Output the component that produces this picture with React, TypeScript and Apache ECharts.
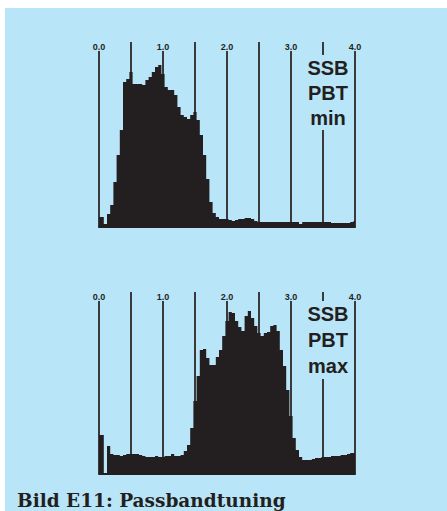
import React, { useEffect, useRef } from "react";
import * as echarts from "echarts";

// frequency grid step (kHz) of the sampled spectra
const STEP = 0.05;
const tickLabels = ["0.0", "1.0", "2.0", "3.0", "4.0"];

// SSB PBT min – amplitude per 0.05 kHz bin, 0.00 … 4.00 kHz
const pbtMin = [
  10, 10, 3, 13, 22, 45, 72, 97, 145, 148,
  155, 143, 143, 143, 142, 147, 150, 155, 160, 162,
  153, 140, 137, 137, 132, 120, 112, 110, 108, 112,
  115, 107, 92, 72, 48, 25, 14, 10, 8, 8,
  8, 7, 6, 7, 8, 8, 9, 9, 8, 6,
  5, 5, 5, 5, 5, 5, 5, 5, 5, 5,
  5, 5, 5, 3, 5, 5, 5, 5, 5, 5,
  5, 5, 5, 4, 4, 4, 4, 4, 4, 5,
  6,
];

// SSB PBT max – amplitude per 0.05 kHz bin, 0.00 … 4.00 kHz
const pbtMax = [
  39, 39, 1, 28, 20, 19, 19, 18, 19, 20,
  20, 20, 20, 19, 18, 17, 17, 17, 18, 17,
  17, 18, 18, 20, 18, 18, 19, 23, 29, 46,
  73, 98, 124, 125, 116, 109, 109, 117, 124, 138,
  153, 162, 161, 153, 147, 143, 158, 163, 156, 148,
  141, 138, 141, 142, 148, 149, 143, 124, 108, 84,
  58, 36, 24, 17, 14, 14, 14, 15, 16, 16,
  17, 17, 17, 18, 18, 18, 19, 19, 20, 21,
  21,
];

const BLUE = "#b9e5f9";
const INK = "#231f20";
const GRIDLINE = "#3a3a3a";

const toPairs = (vals: number[]) => vals.map((v, i) => [+(i * STEP).toFixed(2), v]);

export default function App() {
  const ref = useRef<HTMLDivElement>(null);
  useEffect(() => {
    if (!ref.current) return;
    const chart = echarts.init(ref.current, undefined, { renderer: "svg" });

    const bottomAxis = (gridIndex: number) => ({
      type: "value",
      gridIndex,
      min: 0,
      max: 4,
      interval: 0.5,
      position: "bottom",
      axisLine: { show: true, onZero: false, lineStyle: { color: INK, width: 2 } },
      axisTick: { show: false },
      axisLabel: { show: false },
      splitLine: { show: true, lineStyle: { color: GRIDLINE, width: 2 } },
    });
    const topAxis = (gridIndex: number) => ({
      type: "value",
      gridIndex,
      min: 0,
      max: 4,
      interval: 0.5,
      position: "top",
      axisLine: { show: false },
      axisTick: { show: false },
      splitLine: { show: false },
      axisLabel: {
        show: true,
        margin: -9,
        fontSize: 9,
        fontWeight: "bold",
        fontFamily: "Liberation Sans",
        color: INK,
        backgroundColor: BLUE,
        padding: [0, 1],
        formatter: (v: number) =>
          Math.abs(v - Math.round(v)) < 1e-6 ? tickLabels[Math.round(v)] ?? "" : "",
      },
    });

    const labelText = (text: string, x: number, y: number, lh: number) => ({
      type: "text",
      x,
      y,
      z: 100,
      style: {
        text,
        fontSize: 20,
        fontWeight: "bold",
        fontFamily: "Liberation Sans",
        fill: INK,
        align: "center",
        verticalAlign: "top",
        lineHeight: lh,
        backgroundColor: BLUE,
        padding: [0, 2],
      },
    });

    chart.setOption({
      animation: false,
      backgroundColor: "#ffffff",
      graphic: [
        { type: "rect", z: -10, shape: { x: 5, y: 8, width: 442, height: 503 }, style: { fill: BLUE } },
        labelText("SSB\nPBT\nmin", 328, 55, 25),
        labelText("SSB\nPBT\nmax", 328, 301, 26),
        {
          type: "text",
          x: 17,
          y: 500,
          style: {
            text: "Bild E11: Passbandtuning",
            fontSize: 18.5,
            fontWeight: "bold",
            fontFamily: "DejaVu Serif",
            fill: INK,
            verticalAlign: "middle",
          },
        },
      ],
      grid: [
        { left: 99, top: 42, width: 256, height: 185 },
        { left: 99, top: 292, width: 256, height: 182 },
      ],
      xAxis: [bottomAxis(0), topAxis(0), bottomAxis(1), topAxis(1)],
      yAxis: [
        { type: "value", gridIndex: 0, min: 0, max: 185, show: false },
        { type: "value", gridIndex: 1, min: 0, max: 182, show: false },
      ],
      series: [
        {
          type: "line",
          xAxisIndex: 0,
          yAxisIndex: 0,
          step: "middle",
          symbol: "none",
          lineStyle: { width: 0 },
          areaStyle: { color: INK, opacity: 1 },
          data: toPairs(pbtMin),
        },
        {
          type: "line",
          xAxisIndex: 2,
          yAxisIndex: 1,
          step: "middle",
          symbol: "none",
          lineStyle: { width: 0 },
          areaStyle: { color: INK, opacity: 1 },
          data: toPairs(pbtMax),
        },
      ],
    });
    return () => chart.dispose();
  }, []);
  return (
    <div
      ref={ref}
      style={{ position: "fixed", left: 0, top: 0, width: 447, height: 511 }}
    />
  );
}
